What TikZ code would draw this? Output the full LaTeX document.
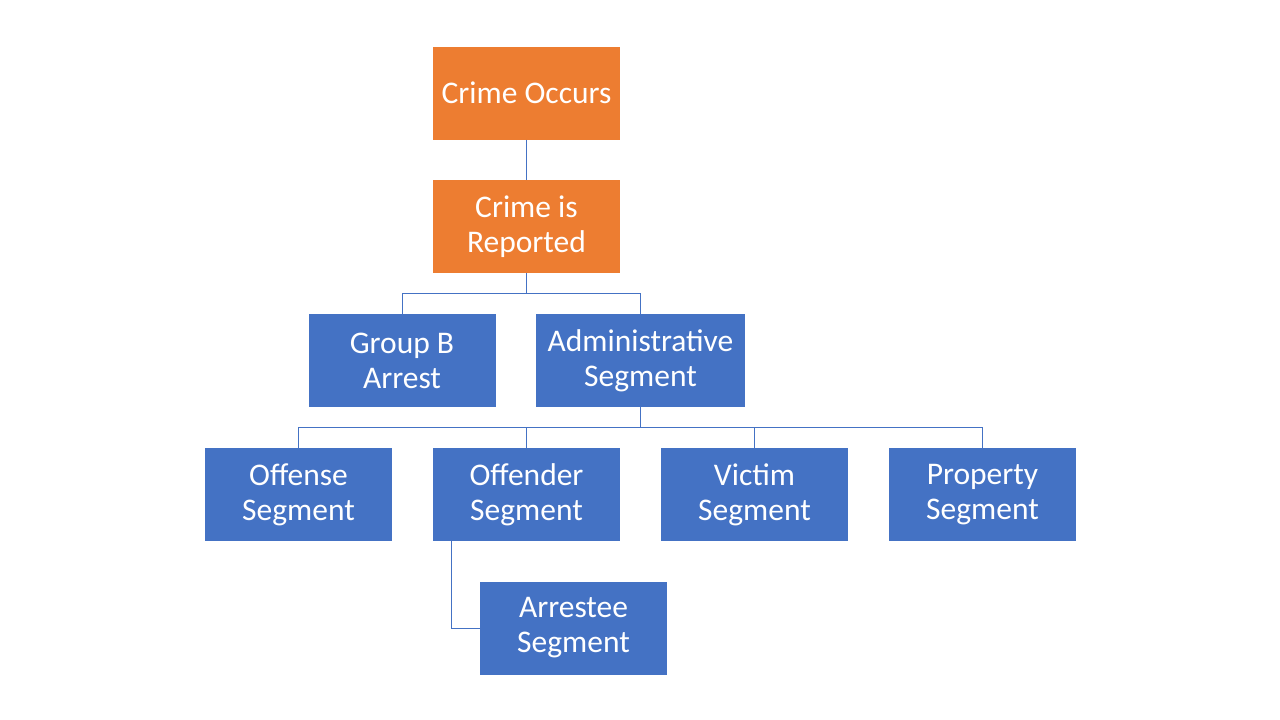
\documentclass[tikz,border=0pt]{standalone}
\usepackage{fontspec}
\setmainfont{Carlito}
\definecolor{orng}{HTML}{ED7D31}
\definecolor{blu}{HTML}{4472C4}
\begin{document}
\begin{tikzpicture}[x=1pt,y=-1pt,
  box/.style={fill=blu,text=white,minimum width=187pt,minimum height=93pt,inner sep=0pt,align=center,font=\fontsize{31.5}{35}\selectfont},
  obox/.style={box,fill=orng},
  conn/.style={draw=blu,line width=1pt}]
\useasboundingbox (0,0) rectangle (1280,720);
\node[obox] (occ) at (526.5,93) {Crime Occurs};
\node[obox] (rep) at (526.5,226.5) {Crime is\\Reported};
\node[box] (grp) at (402,360.5) {Group B\\Arrest};
\node[box,minimum width=209pt] (adm) at (640.5,360.5) {Administrative\\Segment};
\node[box] (ofs) at (298.5,494.5) {Offense\\Segment};
\node[box] (ofd) at (526.5,494.5) {Offender\\Segment};
\node[box] (vic) at (754.5,494.5) {Victim\\Segment};
\node[box] (prp) at (982.5,494.5) {Property\\Segment};
\node[box] (arr) at (573.5,628) {Arrestee\\Segment};
\draw[conn] (occ.south) -- (rep.north);
\draw[conn] (rep.south) |- (402,293) -- (grp.north);
\draw[conn] (rep.south) |- (640.5,293) -- (adm.north);
\draw[conn] (adm.south) |- (298.5,427) -- (ofs.north);
\draw[conn] (adm.south) |- (526.5,427) -- (ofd.north);
\draw[conn] (adm.south) |- (754.5,427) -- (vic.north);
\draw[conn] (adm.south) |- (982.5,427) -- (prp.north);
\coordinate (ofdl) at ([xshift=19pt]ofd.south west);
\draw[conn] (ofdl) |- (arr.west);
\end{tikzpicture}
\end{document}
